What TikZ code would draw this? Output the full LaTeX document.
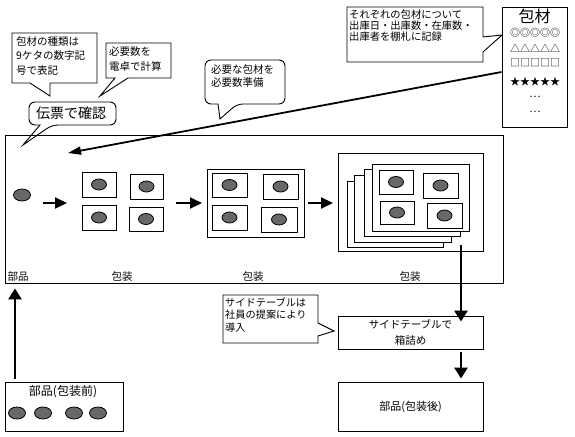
\documentclass[tikz,border=0pt]{standalone}
\usepackage{fontspec}
\newfontfamily\jp{Noto Sans CJK JP}
\usetikzlibrary{arrows.meta,shapes.geometric}
\definecolor{partgray}{RGB}{104,104,104}
\begin{document}
\begin{tikzpicture}[x=1pt,y=-1pt,
  every node/.style={font=\jp\fontsize{10.5}{12}\selectfont, inner sep=0pt},
  part/.style={ellipse, draw, line width=0.8pt, fill=partgray, minimum width=15pt, minimum height=11pt, inner sep=0pt},
  pbox/.style={draw, line width=0.9pt, fill=white, inner sep=0pt},
  callout/.style={draw, line width=0.9pt},
  txt/.style={anchor=north west, align=left},
  symrow/.style={font=\jp\fontsize{10}{11}\selectfont},
  harrow/.style={line width=2pt, -{Triangle[length=12pt,width=11pt]}},
  varrow/.style={line width=2.8pt, -{Triangle[length=11pt,width=13pt]}},
  larrow/.style={line width=1.8pt, -{Triangle[length=13pt,width=8pt]}}]
\useasboundingbox (0,0) rectangle (575,436);

% main frame
\node[pbox, minimum width=498pt, minimum height=148pt] (main) at (254,209) {};

% callouts
\draw[callout] (12,33) -- (97,33) -- (97,83) -- (50,83) -- (50,96) -- (30,83) -- (12,83) -- cycle;
\node[txt, font=\jp\fontsize{10.5}{14.5}\selectfont] (c1) at (16,36) {包材の種類は\\9ケタの数字記\\号で表記};

\draw[callout] (106,43) -- (171,43) -- (171,78) -- (128,78) -- (100,96) -- (115,78) -- (106,78) -- cycle;
\node[txt, font=\jp\fontsize{10.5}{15.5}\selectfont] (c2) at (109,46) {必要数を\\電卓で計算};

\draw[callout, rounded corners=6pt] (40,125) -- (29,125) -- (29,102) -- (116,102) -- (116,125) -- (52,125) [sharp corners] -- (23,145) -- cycle;
\node[font=\jp\fontsize{14}{14}\selectfont] (c3) at (71,113) {伝票で確認};

\draw[callout, rounded corners=6pt] (218,104) -- (205,104) -- (205,60) -- (285,60) -- (285,104) -- (237,104) [sharp corners] -- (220,119) -- cycle;
\node[txt, font=\jp\fontsize{10.5}{13}\selectfont] (c4) at (211,64.5) {必要な包材を\\必要数準備};

\draw[callout] (347,7) -- (483,7) -- (483,37) -- (502,35) -- (483,52) -- (483,62) -- (347,62) -- cycle;
\node[txt, font=\jp\fontsize{10.3}{11}\selectfont] (c5) at (349,9.5) {それぞれの包材について\\出庫日・出庫数・在庫数・\\出庫者を棚札に記録};

\draw[callout] (223,295) -- (318,295) -- (318,323) -- (334,331) -- (318,336) -- (318,343) -- (223,343) -- cycle;
\node[txt, font=\jp\fontsize{10.2}{12.5}\selectfont] (c6) at (225,297.5) {サイドテーブルは\\社員の提案により\\導入};

% packaging material box
\node[pbox, minimum width=65pt, minimum height=120pt] (pkg) at (534.5,67) {};
\node[font=\jp\fontsize{16}{16}\selectfont] (pkgt) at (534.5,16) {包材};
\node[symrow] (r1) at (535,33) {◎◎◎◎◎};
\node[symrow] (r2) at (535,48) {△△△△△};
\node[symrow] (r3) at (535,63) {□□□□□};
\node[symrow] (r4) at (535,82) {★★★★★};
\node (r5) at (535,97) {…};
\node (r6) at (535,112) {…};

% long arrow
\coordinate (ltip) at (68,153);
\draw[larrow] ([yshift=-5pt]pkg.west) -- (ltip);

% single part
\node[part, minimum width=17pt, minimum height=12pt] (p0) at (22,195) {};
\coordinate (a1s) at (43,203); \coordinate (a1e) at (67,203);
\draw[harrow] (a1s) -- (a1e);

% group 1
\foreach \n/\x/\y/\w/\h in {a/99/184.5/34/25, b/146.5/186.5/33/25, c/99/217.5/34/25, d/146/219/34/24}{
  \node[pbox, minimum width=\w pt, minimum height=\h pt] (g1\n) at (\x,\y) {};
  \node[part] (q1\n) at (g1\n) {};
}
\coordinate (a2s) at (176,203); \coordinate (a2e) at (202,203);
\draw[harrow] (a2s) -- (a2e);

% group 2
\node[pbox, minimum width=97pt, minimum height=68pt] (g2) at (255.5,203) {};
\foreach \n/\x/\y/\w/\h in {a/229.5/185/35/24, b/280.5/186.5/35/25, c/229.5/217.5/35/25, d/279/219.5/36/25}{
  \node[pbox, minimum width=\w pt, minimum height=\h pt] (g2\n) at (\x,\y) {};
  \node[part] (q2\n) at (g2\n) {};
}
\coordinate (a3s) at (308,203); \coordinate (a3e) at (333,203);
\draw[harrow] (a3s) -- (a3e);

% group 3
\node[pbox, minimum width=145pt, minimum height=98pt] (g3) at (410.5,202) {};
\node[pbox, minimum width=96pt, minimum height=66pt] (s1) at (395,214) {};
\node[pbox, minimum width=97pt, minimum height=67pt] (s2) at (402.5,208.5) {};
\node[pbox, minimum width=96pt, minimum height=67pt] (s3) at (412,202.5) {};
\node[pbox, minimum width=97pt, minimum height=67pt] (s4) at (420.5,197.5) {};
\foreach \n/\x/\y/\w/\h in {a/396/182/34/24, b/440.5/185.5/35/25, c/397/212.5/34/23, d/444.5/215.5/35/25}{
  \node[pbox, minimum width=\w pt, minimum height=\h pt] (g3\n) at (\x,\y) {};
  \node[part] (q3\n) at (g3\n) {};
}

% labels
\node (l0) at (18,277) {部品};
\node (l1) at (122,277) {包装};
\node (l2) at (253,277) {包装};
\node (l3) at (410,277) {包装};

% side table box and final box
\node[pbox, minimum width=145pt, minimum height=33pt, align=center, font=\jp\fontsize{10.5}{16}\selectfont] (side) at (410.5,332.5) {サイドテーブルで\\箱詰め};
\node[pbox, minimum width=145pt, minimum height=49pt, font=\jp\fontsize{11}{11}\selectfont] (final) at (410.5,406.5) {部品(包装後)};

% bottom-left box
\node[pbox, minimum width=118pt, minimum height=49pt] (before) at (64,406.5) {};
\node[font=\jp\fontsize{12}{12}\selectfont] (bt) at (63,392) {部品(包装前)};
\foreach \n/\x in {a/17,b/43,c/74,d/98}{
  \node[part, minimum width=17pt, minimum height=12pt] (u\n) at (\x,413) {};
}

% vertical arrows
\coordinate (dtop) at (461,245);
\draw[varrow, shorten >=-6pt] (dtop) -- (side.north -| dtop);
\draw[varrow, shorten <=3pt, shorten >=3pt] (side.south -| dtop) -- (final.north -| dtop);
\coordinate (ux) at (15,0);
\draw[varrow, shorten <=3pt, shorten >=5pt] (before.north -| ux) -- (main.south -| ux);
\end{tikzpicture}
\end{document}
